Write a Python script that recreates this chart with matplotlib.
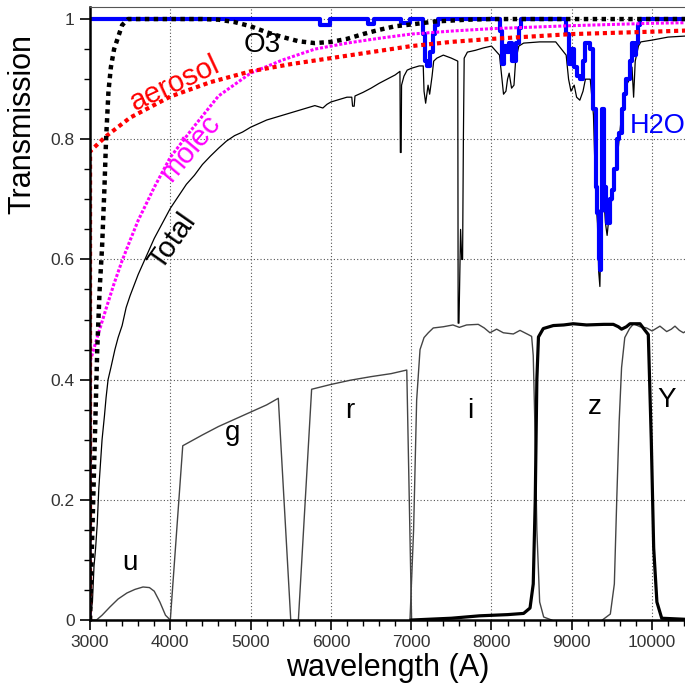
import matplotlib
matplotlib.use("Agg")
import matplotlib.pyplot as plt
from matplotlib.ticker import MultipleLocator

plt.rcParams['font.family'] = ['Liberation Sans', 'DejaVu Sans']

# Atmospheric components (wavelength in A, transmission)
h2o_wl = [3000, 5860, 5990, 6460, 6540, 6870, 6980, 7150, 7170, 7200, 7240, 7270, 7300, 7330,
          8100, 8130, 8160, 8190, 8220, 8260, 8300, 8340, 8370, 8930, 8960, 9000, 9030, 9070,
          9100, 9140, 9170, 9230, 9270, 9300, 9320, 9335, 9350, 9365, 9380, 9400, 9420, 9440,
          9470, 9500, 9530, 9560, 9590, 9620, 9650, 9680, 9720, 9750, 9780, 9800, 9830, 9850, 10450]
h2o_t = [1.0, 0.99, 1.0, 0.992, 1.0, 0.993, 1.0, 0.975, 0.93, 0.922, 0.945, 0.975, 0.99, 1.0,
         0.98, 0.925, 0.955, 0.945, 0.96, 0.93, 0.96, 0.985, 1.0, 0.975, 0.925, 0.95, 0.92, 0.905,
         0.9, 0.93, 0.96, 0.95, 0.85, 0.72, 0.677, 0.6, 0.583, 0.68, 0.85, 0.72, 0.68, 0.66,
         0.7, 0.716, 0.75, 0.8, 0.81, 0.85, 0.875, 0.9, 0.93, 0.96, 0.94, 0.96, 0.99, 1.0, 1.0]

total_wl = [3000, 3030, 3050, 3070, 3090, 3110, 3130, 3150, 3180, 3200, 3225, 3260, 3310, 3350,
            3400, 3450, 3500, 3600, 3700, 3800, 3900, 4000, 4100, 4200, 4300, 4400, 4500, 4600,
            4700, 4800, 4900, 5000, 5100, 5200, 5300, 5400, 5500, 5600, 5700, 5800, 5900, 5950,
            6000, 6100, 6200, 6260, 6270, 6290, 6300, 6400, 6500, 6600, 6700, 6800, 6860, 6865, 6875, 6880,
            6910, 6950, 7000, 7100, 7150, 7160, 7180, 7210, 7230, 7260, 7280, 7320, 7400, 7500, 7580, 7585,
            7595, 7615, 7630, 7640, 7650, 7660, 7700, 7800, 7900, 8000, 8100, 8130, 8150, 8180, 8200, 8220,
            8250, 8280, 8300, 8340, 8400, 8600, 8800, 8930, 8960, 8990, 9030, 9060, 9100, 9140,
            9170, 9230, 9270, 9300, 9320, 9335, 9350, 9365, 9380, 9400, 9420, 9440, 9470, 9500,
            9530, 9560, 9590, 9620, 9650, 9680, 9720, 9750, 9770, 9790, 9830, 9860, 10000, 10200, 10450]
total_t = [0.0, 0.03, 0.09, 0.12, 0.16, 0.22, 0.26, 0.30, 0.34, 0.37, 0.40, 0.42, 0.45, 0.47,
           0.49, 0.52, 0.54, 0.575, 0.605, 0.635, 0.66, 0.685, 0.705, 0.725, 0.74, 0.758, 0.772, 0.785,
           0.797, 0.806, 0.812, 0.82, 0.826, 0.832, 0.836, 0.84, 0.844, 0.848, 0.852, 0.856, 0.852, 0.858,
           0.862, 0.866, 0.87, 0.87, 0.855, 0.855, 0.872, 0.878, 0.885, 0.893, 0.9, 0.907, 0.913, 0.778, 0.778, 0.89,
           0.905, 0.915, 0.918, 0.922, 0.922, 0.88, 0.86, 0.89, 0.875, 0.905, 0.93, 0.935, 0.94, 0.935, 0.93, 0.494,
           0.494, 0.65, 0.6, 0.6, 0.8, 0.935, 0.945, 0.948, 0.952, 0.955, 0.94, 0.9, 0.875, 0.88, 0.9, 0.91,
           0.885, 0.89, 0.93, 0.955, 0.96, 0.962, 0.962, 0.94, 0.9, 0.88, 0.89, 0.87, 0.865, 0.88,
           0.9, 0.9, 0.84, 0.7, 0.66, 0.58, 0.555, 0.66, 0.84, 0.7, 0.66, 0.64, 0.68, 0.7,
           0.74, 0.76, 0.8, 0.84, 0.87, 0.89, 0.9, 0.92, 0.87, 0.93, 0.955, 0.962, 0.965, 0.97, 0.972]

o3_wl = [3000, 3010, 3040, 3060, 3090, 3120, 3150, 3180, 3200, 3230, 3260, 3300, 3350, 3400, 3475,
         4400, 4600, 4800, 5000, 5200, 5400, 5600, 5800, 6000, 6200, 6400, 6600, 6800, 7000, 7300,
         7700, 8000, 10450]
o3_t = [0.0, 0.05, 0.2, 0.3, 0.45, 0.55, 0.62, 0.72, 0.80, 0.88, 0.92, 0.95, 0.97, 0.99, 1.0,
        1.0, 0.999, 0.995, 0.988, 0.978, 0.97, 0.963, 0.96, 0.962, 0.967, 0.975, 0.982, 0.988, 0.991, 0.996,
        0.999, 1.0, 1.0]

mol_wl = [3000, 3001, 3100, 3200, 3300, 3400, 3500, 3600, 3800, 4000, 4300, 4600, 5000, 5400, 5800,
          6200, 6600, 7000, 7500, 8000, 9000, 10000, 10450]
mol_t = [0.0, 0.43, 0.475, 0.518, 0.56, 0.598, 0.632, 0.665, 0.72, 0.77, 0.822, 0.872, 0.91, 0.932, 0.95,
         0.96, 0.968, 0.975, 0.98, 0.984, 0.989, 0.993, 0.994]

aer_wl = [3000, 3001, 3200, 3500, 4000, 4500, 5000, 5500, 6000, 6500, 7000, 7500, 8000, 8500, 9000,
          9500, 10000, 10450]
aer_t = [0.0, 0.78, 0.805, 0.836, 0.871, 0.895, 0.913, 0.925, 0.935, 0.945, 0.955, 0.962, 0.967, 0.971,
         0.975, 0.977, 0.979, 0.981]

# Filter throughputs
u_wl = [3000, 3080, 3150, 3250, 3350, 3460, 3560, 3660, 3740, 3800, 3870, 3940, 4000]
u_t = [0, 0, 0.008, 0.022, 0.035, 0.045, 0.051, 0.055, 0.054, 0.048, 0.03, 0.008, 0]
g_wl = [4000, 4155, 4400, 4600, 4800, 5000, 5200, 5345, 5500]
g_t = [0, 0.29, 0.308, 0.322, 0.334, 0.346, 0.358, 0.369, 0]
r_wl = [5595, 5760, 6000, 6240, 6500, 6750, 6945, 7005]
r_t = [0, 0.384, 0.392, 0.399, 0.405, 0.41, 0.416, 0]
i_wl = [6985, 7030, 7068, 7110, 7160, 7213, 7275, 7400, 7520, 7600, 7690, 7835, 7910, 7981, 8064,
        8147, 8272, 8355, 8458, 8500, 8520, 8545, 8565, 8600, 8650, 8750]
i_t = [0, 0.15, 0.366, 0.45, 0.47, 0.478, 0.486, 0.488, 0.491, 0.487, 0.491, 0.492, 0.486, 0.478, 0.484,
       0.478, 0.476, 0.482, 0.475, 0.472, 0.44, 0.3, 0.15, 0.03, 0.005, 0]
z_wl = [7000, 7500, 7850, 8200, 8400, 8480, 8520, 8545, 8565, 8585, 8645, 8770, 8900, 9018, 9184,
        9400, 9517, 9580, 9620, 9680, 9725, 9850, 9912, 9953, 9990, 10020, 10060, 10120, 10450]
z_t = [0, 0.003, 0.007, 0.009, 0.011, 0.02, 0.06, 0.2, 0.4, 0.471, 0.485, 0.49, 0.491, 0.493, 0.491,
       0.492, 0.492, 0.488, 0.484, 0.488, 0.493, 0.493, 0.482, 0.475, 0.3, 0.12, 0.03, 0.003, 0.001]
y_wl = [9380, 9480, 9530, 9560, 9590, 9620, 9660, 9720, 9770, 9850, 9932, 10000, 10098, 10182, 10240,
        10285, 10340, 10390, 10450]
y_t = [0, 0.01, 0.06, 0.2, 0.33, 0.42, 0.47, 0.485, 0.493, 0.488, 0.486, 0.481, 0.489, 0.48, 0.484,
       0.489, 0.482, 0.478, 0.483]

fig = plt.figure(figsize=(6.85, 6.9), dpi=100)
ax = fig.add_axes([0.1314, 0.1014, 0.8686, 0.8884])

# filters
flt = dict(color='#444444', lw=1.0)
ax.plot(u_wl, u_t, **flt)
ax.plot(g_wl, g_t, **flt)
ax.plot(r_wl, r_t, **flt)
ax.plot(i_wl, i_t, **flt)
ax.plot(y_wl, y_t, **flt)
ax.plot(z_wl, z_t, color='black', lw=2.3)

# atmosphere
ax.plot(total_wl, total_t, color='black', lw=0.9)
ax.plot(h2o_wl, h2o_t, color='#0000ff', lw=3.0, drawstyle='steps-post')
ax.plot(mol_wl, mol_t, color='#ff00ff', lw=2.2, ls=(0, (1, 0.6)))
ax.plot(aer_wl, aer_t, color='#ff0000', lw=3.0, ls=(0, (1, 0.9)))
ax.plot(o3_wl, o3_t, color='black', lw=3.2, ls=(0, (1, 1)))

# labels on curves
ax.text(5140, 0.957, 'O3', fontsize=20, color='black', ha='center', va='center')
ax.text(4060, 0.893, 'aerosol', fontsize=21, color='#ff0000', rotation=25, ha='center', va='center')
ax.text(4245, 0.785, 'molec', fontsize=21, color='#ff00ff', rotation=50, ha='center', va='center')
ax.text(4030, 0.63, 'Total', fontsize=21, color='black', rotation=55, ha='center', va='center')
ax.text(9725, 0.822, 'H2O', fontsize=19.5, color='#0000ff', ha='left', va='center', clip_on=False)

flabels = ['u', 'g', 'r', 'i', 'z', 'Y']
flabel_x = [3500, 4780, 6240, 7730, 9290, 10185]
flabel_y = [0.095, 0.311, 0.347, 0.347, 0.355, 0.366]
for lab, xx, yy in zip(flabels, flabel_x, flabel_y):
    ax.text(xx, yy, lab, fontsize=20, color='black', ha='center', va='center')

ax.set_xlim(3000, 10410)
ax.set_ylim(0, 1.02)
ax.xaxis.set_major_locator(MultipleLocator(1000))
ax.xaxis.set_minor_locator(MultipleLocator(200))
ax.yaxis.set_major_locator(MultipleLocator(0.2))
ax.yaxis.set_minor_locator(MultipleLocator(0.05))
ax.set_yticks([0, 0.2, 0.4, 0.6, 0.8, 1.0])
ax.set_yticklabels(['0', '0.2', '0.4', '0.6', '0.8', '1'])
ax.tick_params(which='major', direction='out', length=7, width=1.2, labelsize=12.5,
               labelcolor='#333333', pad=4)
ax.tick_params(which='minor', direction='out', length=4, width=1.0)
ax.grid(True, which='major', color='#555555', lw=0.8, ls=(0, (1, 2)))

for side in ['left', 'bottom']:
    ax.spines[side].set_linewidth(1.8)
ax.spines['top'].set_linewidth(0.8)
ax.spines['top'].set_color('#555555')
ax.spines['right'].set_visible(False)

ax.set_xlabel('wavelength (A)', fontsize=22, labelpad=2)
ax.set_ylabel('Transmission', fontsize=22)
ax.yaxis.set_label_coords(-0.089, 0.81)

fig.savefig('out.png', dpi=100)
